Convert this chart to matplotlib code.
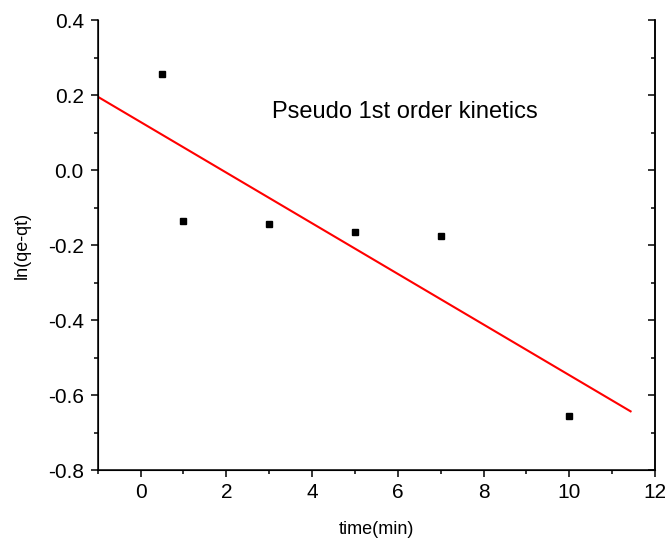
import matplotlib
matplotlib.use("Agg")
import matplotlib.pyplot as plt
from matplotlib.ticker import MultipleLocator
import numpy as np

plt.rcParams['font.family'] = ['Liberation Sans', 'DejaVu Sans']

# adsorption data: time (min) vs ln(qe - qt)
time_min = [0.5, 1, 3, 5, 7, 10]
ln_qe_qt = [0.255, -0.135, -0.145, -0.165, -0.175, -0.655]
fit_range = [-1, 11.43]

slope, intercept = np.polyfit(time_min, ln_qe_qt, 1)
fit_x = np.array(fit_range)
fit_y = slope * fit_x + intercept

fig = plt.figure(figsize=(6.65, 5.44), dpi=100)
ax = fig.add_axes([0.147, 0.136, 0.838, 0.827])

ax.plot(time_min, ln_qe_qt, 's', color='black', markersize=4.5, zorder=3)
ax.plot(fit_x, fit_y, '-', color='red', linewidth=1.5)

ax.set_xlim(-1, 12)
ax.set_ylim(-0.8, 0.4)
ax.xaxis.set_major_locator(MultipleLocator(2))
ax.xaxis.set_minor_locator(MultipleLocator(1))
ax.yaxis.set_major_locator(MultipleLocator(0.2))
ax.yaxis.set_minor_locator(MultipleLocator(0.1))
ax.yaxis.set_major_formatter(plt.FuncFormatter(lambda v, p: f"{v:.1f}"))

ax.spines['top'].set_visible(False)
for s in ['left', 'bottom', 'right']:
    ax.spines[s].set_linewidth(1.1)
ax.tick_params(which='major', direction='out', length=5, width=1.1, labelsize=15)
ax.tick_params(which='minor', direction='out', length=3, width=1.1)
ax.tick_params(axis='x', which='major', pad=4)
ax.tick_params(axis='y', which='major', pad=5)

# inward ticks on the right spine, no labels
ax2 = ax.twinx()
ax2.set_ylim(ax.get_ylim())
ax2.yaxis.set_major_locator(MultipleLocator(0.2))
ax2.yaxis.set_minor_locator(MultipleLocator(0.1))
ax2.tick_params(which='major', direction='in', length=5, width=1.1, labelright=False)
ax2.tick_params(which='minor', direction='in', length=3, width=1.1)
ax2.spines['top'].set_visible(False)
ax2.spines['right'].set_linewidth(1.1)

ax.set_xlabel('time(min)', fontsize=13, labelpad=14)
ax.set_ylabel('ln(qe-qt)', fontsize=13, labelpad=12)
ax.text(6.16, 0.155, 'Pseudo 1st order kinetics', fontsize=17, ha='center', va='center')

fig.savefig('out.png', dpi=100)
